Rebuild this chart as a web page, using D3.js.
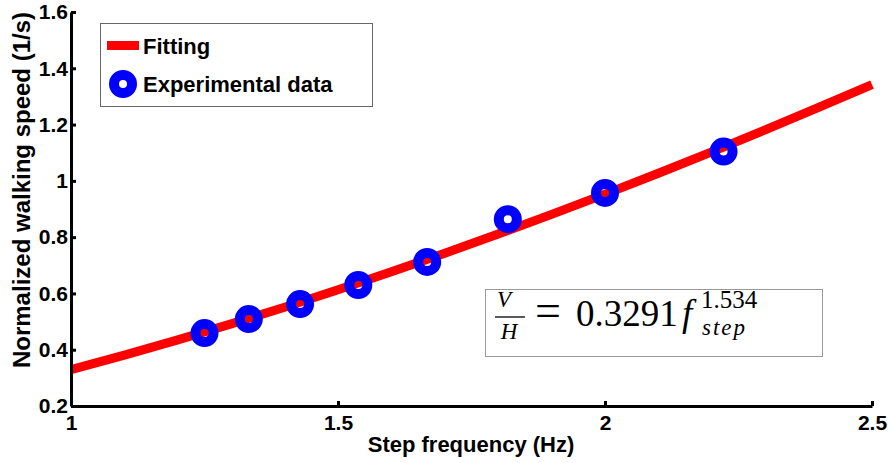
<!DOCTYPE html>
<html>
<head>
<meta charset="utf-8">
<script src="https://cdn.jsdelivr.net/npm/d3@7"></script>
<style>
  body { margin: 0; background: #fff; }
  svg text { font-family: "Liberation Sans", Arial, sans-serif; font-weight: bold; }
  svg text.eq { font-family: "Liberation Serif", serif; font-weight: normal; }
</style>
</head>
<body>
<svg id="chart" width="888" height="463"></svg>
<script>
// experimental data
var stepFreq = [1.25, 1.333, 1.429, 1.538, 1.667, 1.818, 2.0, 2.222];
var walkSpeed = [0.459, 0.509, 0.562, 0.630, 0.712, 0.864, 0.957, 1.104];

// fitted curve
var fitFreq = [1.0, 1.1, 1.2, 1.3, 1.4, 1.5, 1.6, 1.7, 1.8, 1.9, 2.0, 2.1, 2.2, 2.3, 2.4, 2.5];
var fitSpeed = [0.329, 0.381, 0.435, 0.492, 0.551, 0.613, 0.677, 0.743, 0.811, 0.881, 0.953, 1.027, 1.103, 1.181, 1.261, 1.342];

var xTicks = [1, 1.5, 2, 2.5];
var xTickLabels = ['1', '1.5', '2', '2.5'];
var yTicks = [0.2, 0.4, 0.6, 0.8, 1.0, 1.2, 1.4, 1.6];
var yTickLabels = ['0.2', '0.4', '0.6', '0.8', '1', '1.2', '1.4', '1.6'];

var svg = d3.select('#chart');

var x = d3.scaleLinear().domain([1, 2.5]).range([71, 872]);
var y = d3.scaleLinear().domain([0.2, 1.6]).range([406, 12]);

//fitting line
var line = d3.line()
    .x((d, i) => x(fitFreq[i]))
    .y((d, i) => y(fitSpeed[i]))
    .curve(d3.curveMonotoneX);

svg.append('path')
    .datum(fitSpeed)
    .attr('d', line)
    .attr('fill', 'none')
    .attr('stroke', '#ff0000')
    .attr('stroke-width', 9);

//circles
svg.selectAll('circle.pt')
    .data(walkSpeed)
    .enter()
    .append('circle')
    .attr('class', 'pt')
    .attr('cx', (d, i) => x(stepFreq[i]))
    .attr('cy', d => y(d))
    .attr('r', 9)
    .attr('fill', 'none')
    .attr('stroke', '#0000ff')
    .attr('stroke-width', 10);

//axes
var xAxis = d3.axisBottom(x)
    .tickValues(xTicks)
    .tickFormat((d, i) => xTickLabels[i])
    .tickSizeInner(-5)
    .tickSizeOuter(0)
    .tickPadding(9);

var yAxis = d3.axisLeft(y)
    .tickValues(yTicks)
    .tickFormat((d, i) => yTickLabels[i])
    .tickSizeInner(-5)
    .tickSizeOuter(0)
    .tickPadding(3);

var gx = svg.append('g').attr('transform', 'translate(0,406)').call(xAxis);
var gy = svg.append('g').attr('transform', 'translate(71,0)').call(yAxis);

[gx, gy].forEach(g => {
    g.select('.domain').attr('stroke', '#000').attr('stroke-width', 3);
    g.selectAll('.tick line').attr('stroke', '#000').attr('stroke-width', 3);
    g.selectAll('.tick text')
        .attr('fill', '#000')
        .style('font-size', '21px')
        .style('font-family', '"Liberation Sans", Arial, sans-serif')
        .style('font-weight', 'bold');
});

//axis titles
svg.append('text')
    .attr('x', 471)
    .attr('y', 452)
    .attr('text-anchor', 'middle')
    .style('font-size', '22px')
    .text('Step frequency (Hz)');

svg.append('text')
    .attr('transform', 'translate(30,190) rotate(-90)')
    .attr('text-anchor', 'middle')
    .style('font-size', '24px')
    .text('Normalized walking speed (1/s)');

//legend
var legend = svg.append('g');
legend.append('rect')
    .attr('x', 100.5).attr('y', 23.5)
    .attr('width', 272).attr('height', 83)
    .attr('fill', '#fff')
    .attr('stroke', '#666')
    .attr('stroke-width', 1);
legend.append('line')
    .attr('x1', 107).attr('x2', 139)
    .attr('y1', 45.5).attr('y2', 45.5)
    .attr('stroke', '#ff0000')
    .attr('stroke-width', 9);
legend.append('text')
    .attr('x', 143).attr('y', 54)
    .style('font-size', '22px')
    .text('Fitting');
legend.append('circle')
    .attr('cx', 123).attr('cy', 84)
    .attr('r', 9)
    .attr('fill', 'none')
    .attr('stroke', '#0000ff')
    .attr('stroke-width', 10);
legend.append('text')
    .attr('x', 143).attr('y', 92)
    .style('font-size', '22px')
    .text('Experimental data');

//equation box
var eq = svg.append('g');
eq.append('rect')
    .attr('x', 485.5).attr('y', 289.5)
    .attr('width', 337).attr('height', 67)
    .attr('fill', '#fff')
    .attr('stroke', '#999')
    .attr('stroke-width', 1);
eq.append('text').attr('class', 'eq')
    .attr('x', 504).attr('y', 307)
    .attr('text-anchor', 'middle')
    .style('font-size', '23px').style('font-style', 'italic')
    .text('V');
eq.append('line')
    .attr('x1', 495).attr('x2', 525)
    .attr('y1', 317).attr('y2', 317)
    .attr('stroke', '#000').attr('stroke-width', 1.3);
eq.append('text').attr('class', 'eq')
    .attr('x', 509).attr('y', 339)
    .attr('text-anchor', 'middle')
    .style('font-size', '23px').style('font-style', 'italic')
    .text('H');

var rhs = eq.append('text').attr('class', 'eq')
    .attr('x', 537).attr('y', 326)
    .style('font-size', '37px');
rhs.append('tspan')
    .attr('x', 535).attr('y', 326)
    .style('font-size', '46px')
    .text('=');
rhs.append('tspan')
    .attr('x', 576).attr('y', 326)
    .text('0.3291');
rhs.append('tspan')
    .attr('x', 682).attr('y', 326)
    .style('font-style', 'italic')
    .text('f');

// superscript and subscript stacked after f
eq.append('text').attr('class', 'eq')
    .attr('x', 701).attr('y', 308)
    .style('font-size', '25px')
    .text('1.534');
eq.append('text').attr('class', 'eq')
    .attr('x', 702).attr('y', 335)
    .style('font-size', '23px')
    .style('font-style', 'italic')
    .style('letter-spacing', '2px')
    .text('step');
</script>
</body>
</html>
